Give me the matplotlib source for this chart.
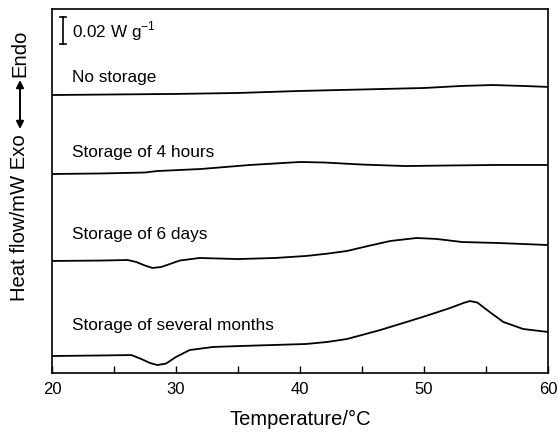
import numpy as np
import matplotlib
matplotlib.use("Agg")
import matplotlib.pyplot as plt

plt.rcParams['font.family'] = ['Liberation Sans', 'DejaVu Sans']

# DSC traces, heat flow in W/g (offset per sample)
t_none = [20, 25, 30, 35, 40, 45, 50, 53, 55.5, 58, 60]
hf_none = [0.2059, 0.2063, 0.2067, 0.2074, 0.2089, 0.2100, 0.2111, 0.2126, 0.2133, 0.2126, 0.2119]

t_4h = [20, 24, 27.5, 28.5, 32, 36, 40, 42, 45, 48.5, 52, 56, 60]
hf_4h = [0.1474, 0.1478, 0.1485, 0.1496, 0.1511, 0.1541, 0.1563, 0.1559, 0.1544, 0.1533, 0.1537, 0.1541, 0.1541]

t_6d = [20, 24, 26.1, 26.8, 27.5, 28.1, 28.8, 29.5, 30.3, 31.9, 35, 38, 40.5, 42.2, 43.8, 45.5,
        47.3, 49.4, 51, 53.1, 56, 60]
hf_6d = [0.0830, 0.0833, 0.0837, 0.0822, 0.0796, 0.0778, 0.0785, 0.0807, 0.0833, 0.0852,
         0.0844, 0.0852, 0.0867, 0.0884, 0.0904, 0.0941, 0.0978, 0.1000, 0.0993, 0.0970, 0.0963, 0.0948]

t_months = [20, 24, 26.4, 27.2, 27.9, 28.5, 29.2, 30.0, 31.1, 33, 35.2, 40.5, 42.2, 43.8, 46.5,
            49.9, 52, 53.2, 53.7, 54.3, 55.3, 56.4, 58, 60]
hf_months = [0.0126, 0.0130, 0.0133, 0.0104, 0.0074, 0.0059, 0.0070, 0.0119, 0.0170, 0.0193,
             0.0200, 0.0215, 0.0230, 0.0252, 0.0319, 0.0415, 0.0478, 0.0519, 0.0533, 0.0522,
             0.0452, 0.0378, 0.0326, 0.0304]

labels = ["No storage", "Storage of 4 hours", "Storage of 6 days", "Storage of several months"]
label_y = [0.2193, 0.1644, 0.1030, 0.0363]
scale_bar = 0.02

fig = plt.figure(figsize=(5.58, 4.35), dpi=100)
ax = fig.add_axes([0.0932, 0.1402, 0.8888, 0.8368])

for t, hf in [(t_none, hf_none), (t_4h, hf_4h), (t_6d, hf_6d), (t_months, hf_months)]:
    ax.plot(t, hf, color='black', lw=1.3)

for lab, y in zip(labels, label_y):
    ax.text(21.6, y, lab, fontsize=12.4, va='center', ha='left')

# scale bar
sb_x, sb_y = 20.9, 0.2437
ax.plot([sb_x, sb_x], [sb_y, sb_y + scale_bar], color='black', lw=1.2)
ax.plot([sb_x - 0.25, sb_x + 0.25], [sb_y, sb_y], color='black', lw=1.2)
ax.plot([sb_x - 0.25, sb_x + 0.25], [sb_y + scale_bar, sb_y + scale_bar], color='black', lw=1.2)
ax.text(21.6, sb_y + scale_bar / 2, "0.02 W g$^{\\mathregular{-1}}$", fontsize=12.3, va='center', ha='left')

ax.set_xlim(20, 60)
ax.set_ylim(0, 0.2696)
ax.set_xticks([20, 30, 40, 50, 60])
ax.set_xticks([25, 35, 45, 55], minor=True)
ax.tick_params(axis='x', which='both', direction='in', length=5, width=1, labelsize=12, pad=6)
ax.set_yticks([])
for s in ax.spines.values():
    s.set_linewidth(1.2)

ax.set_xlabel("Temperature/°C", fontsize=14.5, labelpad=9)

# y label with a double arrow between Exo and Endo
W, H = 558, 435
fig.text(20 / W, 1 - 218 / H, "Heat flow/mW Exo", rotation=90, fontsize=14.6, ha='center', va='center')
fig.text(20 / W, 1 - 53 / H, "Endo", rotation=90, fontsize=14.6, ha='center', va='center')
ax.annotate("", xy=(20 / W, 1 - 81 / H), xytext=(20 / W, 1 - 130 / H),
            xycoords='figure fraction', textcoords='figure fraction',
            arrowprops=dict(arrowstyle='<|-|>', color='black', lw=1.4, mutation_scale=11,
                            shrinkA=0, shrinkB=0))

fig.savefig("out.png", dpi=100)
